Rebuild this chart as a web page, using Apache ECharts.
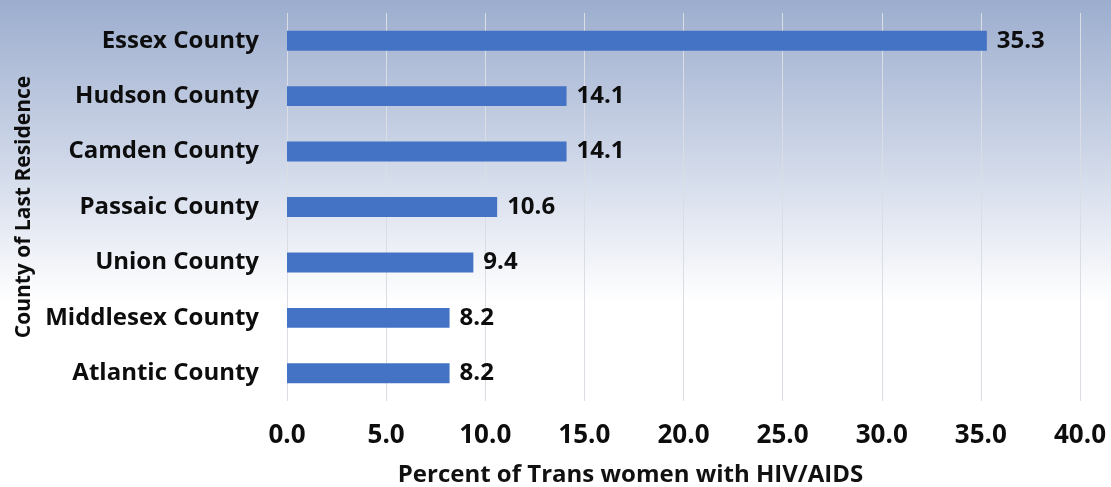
<!DOCTYPE html>
<html>
<head>
<meta charset="utf-8">
<script src="https://cdn.jsdelivr.net/npm/echarts@6/dist/echarts.min.js"></script>
<style>
  html, body { margin: 0; padding: 0; }
  #chart { width: 1111px; height: 487px; }
</style>
</head>
<body>
<div id="chart"></div>
<script>
  // counties listed bottom to top (category axis starts at bottom)
  const counties = ['Atlantic County', 'Middlesex County', 'Union County', 'Passaic County',
    'Camden County', 'Hudson County', 'Essex County'];
  const percents = [8.2, 8.2, 9.4, 10.6, 14.1, 14.1, 35.3];

  const font = '"Open Sans", Lato, sans-serif';

  const chart = echarts.init(document.getElementById('chart'));
  chart.setOption({
    backgroundColor: {
      type: 'linear', x: 0, y: 0, x2: 0, y2: 1,
      colorStops: [
        { offset: 0, color: '#9cadce' },
        { offset: 0.35, color: '#d2daea' },
        { offset: 0.62, color: '#ffffff' },
        { offset: 1, color: '#ffffff' }
      ]
    },
    grid: {
      left: 287,
      right: 31,
      top: 13,
      bottom: 86,
      outerBoundsMode: 'none'
    },
    xAxis: {
      type: 'value',
      min: 0,
      max: 40,
      interval: 5,
      name: 'Percent of Trans women with HIV/AIDS',
      nameLocation: 'middle',
      nameGap: 62,
      nameTextStyle: {
        fontFamily: font, fontWeight: 'bold', fontSize: 24, color: '#111',
        padding: [0, 106, 0, 0]
      },
      axisLine: { show: false },
      axisTick: { show: false },
      axisLabel: {
        margin: 22,
        fontFamily: font, fontWeight: 'bold', fontSize: 26, color: '#0d0d0d',
        formatter: v => v.toFixed(1)
      },
      splitLine: { show: true, lineStyle: { color: '#dadde3', width: 1 } }
    },
    yAxis: {
      type: 'category',
      data: counties,
      name: 'County of Last Residence',
      nameLocation: 'middle',
      nameGap: 248,
      nameRotate: 90,
      nameTextStyle: { fontFamily: font, fontWeight: 'bold', fontSize: 21, color: '#0d0d0d' },
      axisLine: { show: false },
      axisTick: { show: false },
      axisLabel: {
        margin: 28,
        fontFamily: font, fontWeight: 'bold', fontSize: 24, color: '#0d0d0d'
      }
    },
    series: [{
      type: 'bar',
      data: percents,
      barWidth: '36%',
      itemStyle: { color: '#4472c4' },
      label: {
        show: true,
        position: 'right',
        distance: 10,
        formatter: p => p.value.toFixed(1),
        fontFamily: font, fontWeight: 'bold', fontSize: 24, color: '#0d0d0d'
      }
    }]
  });
</script>
</body>
</html>
